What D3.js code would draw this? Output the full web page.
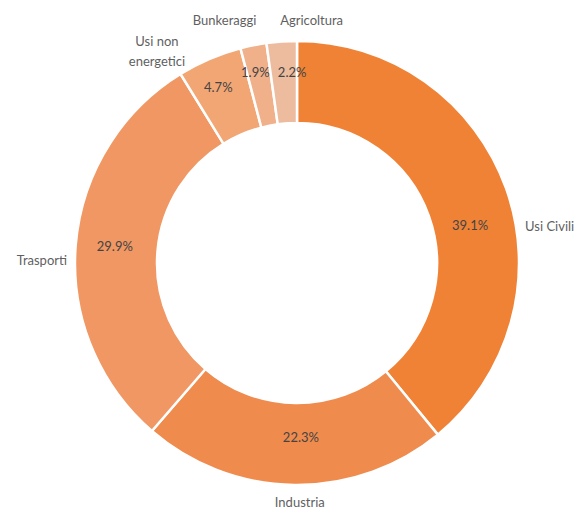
<!DOCTYPE html>
<html>
<head>
<meta charset="utf-8">
<script src="https://cdn.jsdelivr.net/npm/d3@7"></script>
<style>
    body { margin: 0; background: #fff; }
    svg text { font-family: Lato, "Open Sans", sans-serif; }
</style>
</head>
<body>
<div id="chart"></div>
<script>
// data, clockwise from 12 o'clock
var categories = ['Usi Civili', 'Industria', 'Trasporti', 'Usi non energetici', 'Bunkeraggi', 'Agricoltura'];
var shares = [39.1, 22.3, 29.9, 4.7, 1.9, 2.2];
var shareLabels = ['39.1%', '22.3%', '29.9%', '4.7%', '1.9%', '2.2%'];

// layout of the labels (degrees of shift off the slice middle, radius, anchors)
var outerLabel = [
    { shift: 10.6, r: 231, anchor: 'start', v: 'middle', lines: ['Usi Civili'] },
    { shift: -1.4, r: 234, anchor: 'middle', v: 'top', lines: ['Industria'] },
    { shift: -4, r: 230, anchor: 'end', v: 'middle', lines: ['Trasporti'] },
    { shift: -12.5, r: 240, anchor: 'middle', v: 'bottom', lines: ['Usi non', 'energetici'] },
    { shift: -5.8, r: 246, anchor: 'middle', v: 'bottom', lines: ['Bunkeraggi'] },
    { shift: 7.5, r: 236, anchor: 'middle', v: 'bottom', lines: ['Agricoltura'] }
];
var innerLabel = [
    { shift: 7.6, r: 177 }, { shift: -2, r: 174 }, { shift: 0.7, r: 183 },
    { shift: -1, r: 192 }, { shift: -1, r: 195 }, { shift: 2.5, r: 191 }
];

var colors = ['#F08236', '#F08B4E', '#F09763', '#F2A674', '#F0B08A', '#EDBC9E'];

var width = 577, height = 513;
var cx = 297, cy = 263;
var outerR = 222, innerR = 140;
var fontSize = 13, lineH = 20;

var svg = d3.select('#chart').append('svg')
    .attr('width', width)
    .attr('height', height);

var g = svg.append('g')
    .attr('transform', 'translate(' + cx + ',' + cy + ')');

var rows = categories.map(function (c, i) {
    return { name: c, value: shares[i], label: shareLabels[i], i: i };
});

var pie = d3.pie()
    .value(function (d) { return d.value; })
    .sort(null);

var arc = d3.arc()
    .innerRadius(innerR)
    .outerRadius(outerR);

var arcs = pie(rows);

g.selectAll('.slice')
    .data(arcs)
    .enter().append('path')
    .attr('class', 'slice')
    .attr('d', arc)
    .style('fill', function (d) { return colors[d.data.i]; })
    .style('stroke', '#fff')
    .style('stroke-width', 2.5);

function midAngle(d, shiftDeg) {
    return (d.startAngle + d.endAngle) / 2 + shiftDeg * Math.PI / 180;
}

// percentages inside the ring
g.selectAll('.pct')
    .data(arcs)
    .enter().append('text')
    .attr('class', 'pct')
    .attr('x', function (d) {
        var l = innerLabel[d.data.i];
        return l.r * Math.sin(midAngle(d, l.shift));
    })
    .attr('y', function (d) {
        var l = innerLabel[d.data.i];
        return -l.r * Math.cos(midAngle(d, l.shift));
    })
    .attr('text-anchor', 'middle')
    .attr('dy', '0.35em')
    .style('font-size', fontSize + 'px')
    .style('fill', '#444')
    .text(function (d) { return d.data.label; });

// category names outside
var names = g.selectAll('.name')
    .data(arcs)
    .enter().append('text')
    .attr('class', 'name')
    .attr('text-anchor', function (d) { return outerLabel[d.data.i].anchor; })
    .style('font-size', fontSize + 'px')
    .style('fill', '#5f5f5f');

names.each(function (d) {
    var l = outerLabel[d.data.i];
    var a = midAngle(d, l.shift);
    var x = l.r * Math.sin(a);
    var y = -l.r * Math.cos(a);
    var n = l.lines.length;
    var y0;
    if (l.v === 'middle') y0 = y - (n - 1) * lineH / 2 + fontSize * 0.35;
    else if (l.v === 'top') y0 = y + fontSize * 0.8;
    else y0 = y - (n - 1) * lineH - fontSize * 0.2;
    d3.select(this).selectAll('tspan')
        .data(l.lines)
        .enter().append('tspan')
        .attr('x', x)
        .attr('y', function (t, k) { return y0 + k * lineH; })
        .text(function (t) { return t; });
});
</script>
</body>
</html>
